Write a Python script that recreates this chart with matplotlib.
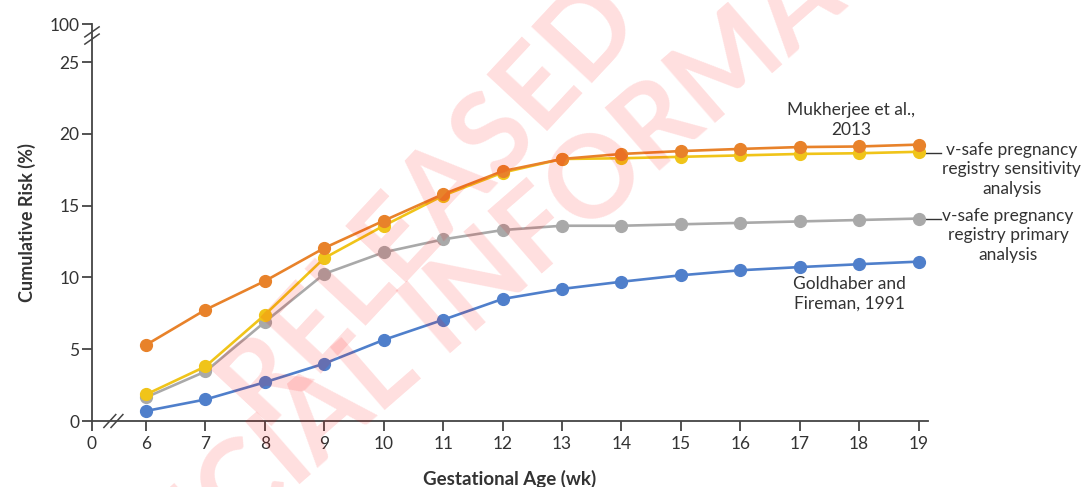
import matplotlib.pyplot as plt
import numpy as np

plt.rcParams['font.family'] = ['Lato', 'DejaVu Sans']

weeks = [6, 7, 8, 9, 10, 11, 12, 13, 14, 15, 16, 17, 18, 19]
mukherjee = [5.3, 7.75, 9.75, 12.05, 13.95, 15.8, 17.4, 18.25, 18.6, 18.8, 18.95, 19.08, 19.12, 19.25]
sensitivity = [1.85, 3.8, 7.4, 11.35, 13.6, 15.7, 17.3, 18.25, 18.3, 18.4, 18.5, 18.6, 18.65, 18.75]
primary = [1.65, 3.45, 6.9, 10.25, 11.75, 12.65, 13.3, 13.6, 13.6, 13.7, 13.8, 13.9, 14.0, 14.1]
goldhaber = [0.7, 1.5, 2.7, 4.0, 5.65, 7.05, 8.5, 9.2, 9.7, 10.15, 10.5, 10.72, 10.92, 11.1]

yticks = [0, 5, 10, 15, 20, 25]
x_zero_pos = 5.09   # where the "0" week tick sits after the axis break
y_top_pos = 27.65   # where the "100" tick sits after the axis break

fig = plt.figure(figsize=(10.81, 4.87), dpi=100)
ax = fig.add_axes([0.0851, 0.1355, 0.7734, 0.8152])

# watermark
fig.text(0.397, 0.59, "RELEASED", rotation=47, color='#ff0000', alpha=0.13,
         fontsize=82, fontweight='bold', ha='center', va='center')
fig.text(0.492, 0.51, "OFFICIAL INFORMATION", rotation=41, color='#ff0000', alpha=0.13,
         fontsize=82, fontweight='bold', ha='center', va='center')

series = [
    (goldhaber, '#4f7fcb'),
    (primary, '#a9a9a9'),
    (sensitivity, '#f0c419'),
    (mukherjee, '#e8822a'),
]
for vals, col in series:
    ax.plot(weeks, vals, color=col, lw=1.9, marker='o', ms=8.5, zorder=3)

ax.set_xlim(x_zero_pos, 19.16)
ax.set_ylim(0, y_top_pos)
ax.set_xticks([x_zero_pos] + weeks)
ax.set_xticklabels(['0'] + [str(w) for w in weeks])
ax.set_yticks(yticks + [y_top_pos])
ax.set_yticklabels([str(t) for t in yticks] + ['100'])

for s in ['top', 'right']:
    ax.spines[s].set_visible(False)
for s in ['left', 'bottom']:
    ax.spines[s].set_color('#444444')
    ax.spines[s].set_linewidth(1.3)
ax.tick_params(axis='both', colors='#444444', width=1.3, length=7, labelsize=12.5,
               labelcolor='#333333')
ax.tick_params(axis='y', pad=2)

# axis break marks
kw = dict(color='#444444', lw=1.1, clip_on=False, zorder=5)
for dx in (-0.06, 0.06):
    ax.plot([5.45 + dx - 0.1, 5.45 + dx + 0.1], [-0.45, 0.45], **kw)
for dy in (-0.25, 0.25):
    ax.plot([x_zero_pos - 0.12, x_zero_pos + 0.12], [26.85 + dy - 0.35, 26.85 + dy + 0.35], **kw)

ax.set_xlabel('Gestational Age (wk)', fontsize=13.5, fontweight='bold', color='#333333', labelpad=13)
ax.set_ylabel('Cumulative Risk (%)', fontsize=13, fontweight='bold', color='#333333', labelpad=10)

tkw = dict(fontsize=12.5, color='#333333', multialignment='center', linespacing=1.28)
ax.text(17.87, 20.95, 'Mukherjee et al.,\n2013', ha='center', va='center', **tkw)
ax.text(17.84, 8.85, 'Goldhaber and\nFireman, 1991', ha='center', va='center', **tkw)

ax.plot([19.1, 19.38], [18.7, 18.7], color='#333333', lw=1, clip_on=False)
ax.text(19.4, 19.45, 'v-safe pregnancy\nregistry sensitivity\nanalysis', ha='left', va='top',
        clip_on=False, **tkw)
ax.plot([19.1, 19.38], [14.1, 14.1], color='#333333', lw=1, clip_on=False)
ax.text(19.4, 14.85, 'v-safe pregnancy\nregistry primary\nanalysis', ha='left', va='top',
        clip_on=False, **tkw)

fig.savefig('out.png', dpi=100)
